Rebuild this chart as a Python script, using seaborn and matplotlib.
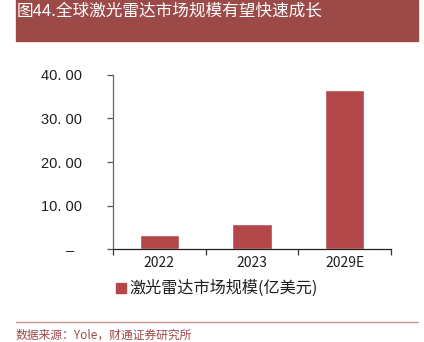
import matplotlib
matplotlib.use("Agg")
import matplotlib.pyplot as plt
import seaborn as sns
import pandas as pd
from matplotlib.patches import Rectangle
from matplotlib.lines import Line2D

# Data
years = ["2022", "2023", "2029E"]
market_size = [3.3, 5.7, 36.6]  # 亿美元
series_name = "激光雷达市场规模(亿美元)"
y_ticks = [0, 10, 20, 30, 40]
y_tick_labels = ["–  ", "10. 00", "20. 00", "30. 00", "40. 00"]
title = "图44.全球激光雷达市场规模有望快速成长"
source = "数据来源：Yole，财通证券研究所"

sns.set_theme(style="white")
plt.rcParams["font.family"] = ["Noto Sans CJK SC", "DejaVu Sans"]

bar_color = "#B3474A"
band_color = "#9B4A47"
text_color = "#1E1E1E"

fig = plt.figure(figsize=(4.24, 3.42), dpi=100)
W, H = 424, 342

# Header band with title
fig.patches.append(Rectangle((16 / W, 1 - 41 / H), (418 - 16) / W, 41 / H,
                             transform=fig.transFigure, color=band_color, zorder=0))
fig.text(17 / W, 1 - 11 / H, title, color="white", fontsize=12,
         va="center", ha="left")

ax = fig.add_axes([112.7 / W, 1 - 249.3 / H, (391.3 - 112.7) / W, (249.3 - 74.7) / H])
df = pd.DataFrame({"year": years, "value": market_size})
sns.barplot(data=df, x="year", y="value", color=bar_color, width=0.42,
            saturation=1, ax=ax)

ax.set_ylim(0, 40)
ax.set_xlim(-0.5, 2.5)
ax.set_yticks(y_ticks)
ax.set_yticklabels(y_tick_labels, fontsize=10.5, color=text_color,
                   family="Liberation Sans")
ax.set_xlabel("")
ax.set_ylabel("")

# Category boundaries carry the tick marks; labels sit at bar centres
ax.set_xticks([-0.5, 0.5, 1.5, 2.5])
ax.set_xticklabels([])
ax.set_xticks([0, 1, 2], minor=True)
ax.set_xticklabels(years, minor=True, fontsize=10, color=text_color)
ax.tick_params(axis="x", which="major", direction="out", length=4, width=0.9,
               color="#333333", bottom=True)
ax.tick_params(axis="x", which="minor", length=0, pad=5)
ax.tick_params(axis="y", direction="out", length=4, width=0.9, color="#555555",
               left=True, pad=18)

for side in ["top", "right"]:
    ax.spines[side].set_visible(False)
ax.spines["left"].set_color("#666666")
ax.spines["left"].set_linewidth(0.9)
ax.spines["bottom"].set_color("#222222")
ax.spines["bottom"].set_linewidth(0.9)

# Legend below the axis
fig.patches.append(Rectangle((116 / W, 1 - 293 / H), 10 / W, 10 / H,
                             transform=fig.transFigure, color=bar_color))
fig.text(129 / W, 1 - 288 / H, series_name, fontsize=11.6, color=text_color,
         va="center", ha="left")

# Footer rule and source note
fig.lines.append(Line2D([16 / W, 418 / W], [1 - 321.7 / H, 1 - 321.7 / H],
                        transform=fig.transFigure, color="#C99593", linewidth=1.0))
fig.text(16 / W, 1 - 335 / H, source, fontsize=8.5, color=band_color,
         va="center", ha="left")

fig.savefig("out.png", dpi=100)
